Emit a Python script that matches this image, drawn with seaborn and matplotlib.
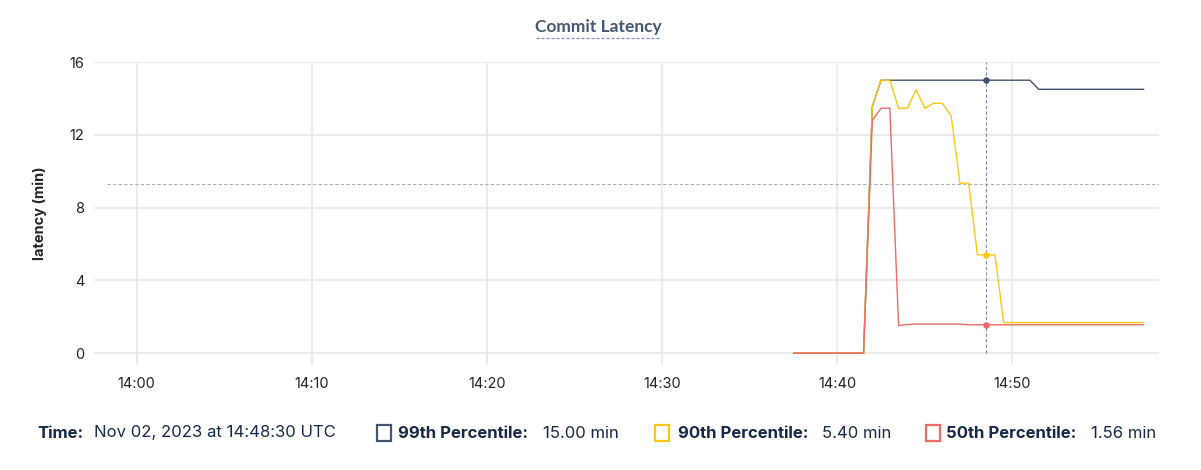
import matplotlib
matplotlib.use("Agg")
import matplotlib.pyplot as plt
import matplotlib.dates as mdates
from matplotlib.patches import Rectangle
import pandas as pd
import seaborn as sns

# sample times, one every 30 s
times = pd.date_range("2023-11-02 14:37:30", "2023-11-02 14:57:30", freq="30s")

p99 = [0] * 9 + [13.55] + [15.0] * 18 + [14.5] * 13
p90 = [0] * 9 + [13.55, 15.0, 15.0, 13.46, 13.46, 14.47, 13.46, 13.73, 13.73,
                 13.04, 9.34, 9.34, 5.40, 5.40, 5.40] + [1.68] * 17
p50 = [0] * 9 + [12.8, 13.46, 13.46, 1.52, 1.57] + [1.60] * 6 + [1.56] * 21

series_names = ["99th Percentile", "90th Percentile", "50th Percentile"]
series_colors = ["#44546f", "#fbc913", "#f06a6a"]
hover_idx = 22          # 14:48:30
threshold = 9.3

df = pd.DataFrame({"time": list(times) * 3,
                   "latency": p99 + p90 + p50,
                   "series": sum([[n] * len(times) for n in series_names], [])})

sns.set_style("white")
plt.rcParams["font.family"] = ["Inter", "DejaVu Sans"]

fig = plt.figure(figsize=(12.01, 4.70), dpi=100)
ax = fig.add_axes([94 / 1201, 1 - 365 / 470, 1065 / 1201, 303 / 470])

sns.lineplot(data=df, x="time", y="latency", hue="series",
             palette=dict(zip(series_names, series_colors)),
             hue_order=series_names, linewidth=1.0, legend=False, ax=ax)

hover_time = times[hover_idx]
for vals, col in zip([p99, p90, p50], series_colors):
    ax.scatter([hover_time], [vals[hover_idx]], s=22, color=col, zorder=5,
               linewidths=0)

ax.vlines(hover_time, 0, 16, colors="#7d8ca1", linestyles=(0, (3, 2)),
          linewidth=0.8, zorder=4)
ax.axhline(threshold, xmin=13 / 1065, color="#a9b0bb",
           linestyle=(0, (3, 2)), linewidth=0.8)

ax.set_xlim(pd.Timestamp("2023-11-02 13:57:34"), pd.Timestamp("2023-11-02 14:58:22"))
ax.set_ylim(-0.65, 16)
ax.set_yticks([0, 4, 8, 12, 16])
ax.xaxis.set_major_locator(mdates.MinuteLocator(byminute=range(0, 60, 10)))
ax.xaxis.set_major_formatter(mdates.DateFormatter("%H:%M"))
ax.grid(True, color="#ebebeb", linewidth=1.5)
ax.set_axisbelow(True)
for s in ax.spines.values():
    s.set_visible(False)
ax.tick_params(length=0, labelsize=10.5, colors="#222222")
ax.tick_params(axis="y", pad=7)
ax.tick_params(axis="x", pad=9)
ax.set_xlabel("")
ax.set_ylabel("latency (min)", fontsize=10.5, fontweight="bold", labelpad=16)

# title with dashed underline
fig.text(598 / 1201, 1 - 27 / 470, "Commit Latency", ha="center", va="center",
         fontsize=12.5, fontweight="bold", color="#475872", family=["Lato", "DejaVu Sans"])
fig.add_artist(plt.Line2D([536 / 1201, 661 / 1201], [1 - 38 / 470] * 2,
                          color="#7f8fb0", linestyle=(0, (2.5, 1.5)), linewidth=0.9))

# hover legend row
txt = "#17294a"
ly = 1 - 433 / 470
fs = 12
fig.text(37 / 1201, ly, "Time:", fontsize=fs, fontweight="bold", color=txt, va="center")
fig.text(94 / 1201, ly, "Nov 02, 2023 at 14:48:30 UTC", fontsize=fs, color=txt, va="center")
box_x = [377, 655, 926]
label_x = [398, 678, 946]
value_x = [543, 822, 1091]
for name, col, vals, bx, lx, vx in zip(series_names, series_colors, [p99, p90, p50],
                                       box_x, label_x, value_x):
    fig.add_artist(Rectangle((bx / 1201, 1 - 441 / 470), 14 / 1201, 16 / 470,
                             transform=fig.transFigure, facecolor="white",
                             edgecolor=col, linewidth=1.6))
    fig.text(lx / 1201, ly, name + ":", fontsize=fs, fontweight="bold", color=txt, va="center")
    fig.text(vx / 1201, ly, f"{vals[hover_idx]:.2f} min", fontsize=fs, color=txt, va="center")

fig.savefig("out.png", dpi=100)
